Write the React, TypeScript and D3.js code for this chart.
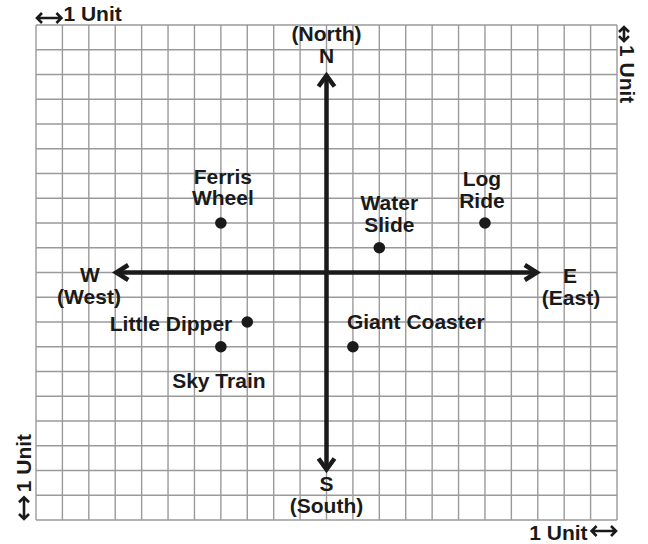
import React from "react";
import * as d3 from "d3";

// amusement park map: position of each ride in units east (+) / north (+) of the centre
const places = ["Ferris Wheel", "Water Slide", "Log Ride", "Little Dipper", "Sky Train", "Giant Coaster"];
const eastWest = [-4, 2, 6, -3, -4, 1];
const northSouth = [2, 1, 2, -2, -3, -3];

const gridX = d3.range(-11, 12);
const gridY = d3.range(-10, 11);
const axisReach = 8;

// where each label sits relative to its dot (px)
const labelPlacement: Record<string, { anchor: string; dx: number; dy: number[] }> = {
  "Ferris Wheel": { anchor: "middle", dx: 2, dy: [-39, -18] },
  "Water Slide": { anchor: "middle", dx: 10, dy: [-38, -16] },
  "Log Ride": { anchor: "middle", dx: -3, dy: [-37, -15] },
  "Little Dipper": { anchor: "end", dx: -15, dy: [9] },
  "Sky Train": { anchor: "middle", dx: -2, dy: [41] },
  "Giant Coaster": { anchor: "start", dx: -6, dy: [-18] },
};

const W = 648;
const H = 544;
const font = "'Liberation Sans', Arial, sans-serif";

const App = () => {
  const x = d3.scaleLinear().domain([-11, 11]).range([36, 617]);
  const y = d3.scaleLinear().domain([-10, 10]).range([520, 25]);
  const cellH = y(0) - y(1);

  const txt = { fontFamily: font, fontWeight: 700, fontSize: 21, fill: "#1a1a1a" } as const;

  // little double arrow used for the "1 Unit" keys
  const dblArrow = (x0: number, y0: number, x1: number, y1: number) => {
    const h = 5;
    if (y0 === y1) {
      return `M${x0},${y0}H${x1}M${x0 + h},${y0 - h}L${x0},${y0}L${x0 + h},${y0 + h}M${x1 - h},${y1 - h}L${x1},${y1}L${x1 - h},${y1 + h}`;
    }
    return `M${x0},${y0}V${y1}M${x0 - h},${y0 + h}L${x0},${y0}L${x0 + h},${y0 + h}M${x1 - h},${y1 - h}L${x1},${y1}L${x1 + h},${y1 - h}`;
  };

  const cx = x(0);
  const cy = y(0);
  const west = x(-axisReach);
  const east = x(axisReach);
  const north = y(axisReach);
  const south = y(-axisReach);

  return (
    <svg width={W} height={H} style={{ position: "absolute", left: 0, top: 0, background: "#fff" }}>
      <g stroke="#9a9a9a" strokeWidth={1.4}>
        {gridX.map((v) => (
          <line key={"gx" + v} x1={x(v)} x2={x(v)} y1={y(10)} y2={y(-10)} />
        ))}
        {gridY.map((v) => (
          <line key={"gy" + v} x1={x(-11)} x2={x(11)} y1={y(v)} y2={y(v)} />
        ))}
      </g>

      <g stroke="#1a1a1a" strokeWidth={4.5} fill="none" strokeLinejoin="miter">
        <line x1={west + 2} x2={east - 2} y1={cy} y2={cy} />
        <line x1={cx} x2={cx} y1={north + 2} y2={south - 2} />
        <path d={`M${west + 13},${cy - 7.5}L${west + 1},${cy}L${west + 13},${cy + 7.5}`} />
        <path d={`M${east - 13},${cy - 7.5}L${east - 1},${cy}L${east - 13},${cy + 7.5}`} />
        <path d={`M${cx - 8},${north + 12}L${cx},${north + 1}L${cx + 8},${north + 12}`} />
        <path d={`M${cx - 8},${south - 12}L${cx},${south - 1}L${cx + 8},${south - 12}`} />
      </g>

      <g {...txt} textAnchor="middle">
        <text x={cx} y={41}>(North)</text>
        <text x={cx} y={63}>N</text>
        <text x={cx} y={491}>S</text>
        <text x={cx} y={513}>(South)</text>
        <text x={90} y={282}>W</text>
        <text x={89} y={304}>(West)</text>
        <text x={570} y={283}>E</text>
        <text x={571} y={305}>(East)</text>
      </g>

      {places.map((name, i) => {
        const px = x(eastWest[i]);
        const py = y(northSouth[i]);
        const p = labelPlacement[name];
        const lines = p.dy.length > 1 ? name.split(" ") : [name];
        return (
          <g key={name}>
            <circle cx={px} cy={py} r={5.8} fill="#1a1a1a" />
            {lines.map((l, j) => (
              <text key={l} {...txt} x={px + p.dx} y={py + p.dy[j]} textAnchor={p.anchor}>
                {l}
              </text>
            ))}
          </g>
        );
      })}

      {/* unit keys */}
      <g stroke="#1a1a1a" strokeWidth={2.6} fill="none">
        <path d={dblArrow(x(-11) + 1, 18, x(-10) - 1, 18)} />
        <path d={dblArrow(x(10) + 1, 531, x(11) - 1, 531)} />
        <path d={dblArrow(624, y(10) + 2, 624, y(10) + cellH * 0.65)} />
        <path d={dblArrow(24, y(-9) + 2, 24, y(-10) - 1)} />
      </g>
      <g {...txt}>
        <text x={x(-10) + 1} y={21}>1 Unit</text>
        <text x={x(10) - 3} y={540} textAnchor="end">1 Unit</text>
        <text transform={`translate(620,${y(10) + 20}) rotate(90)`}>1 Unit</text>
        <text transform={`translate(31,${y(-9) - 3}) rotate(-90)`}>1 Unit</text>
      </g>
    </svg>
  );
};

export default App;
